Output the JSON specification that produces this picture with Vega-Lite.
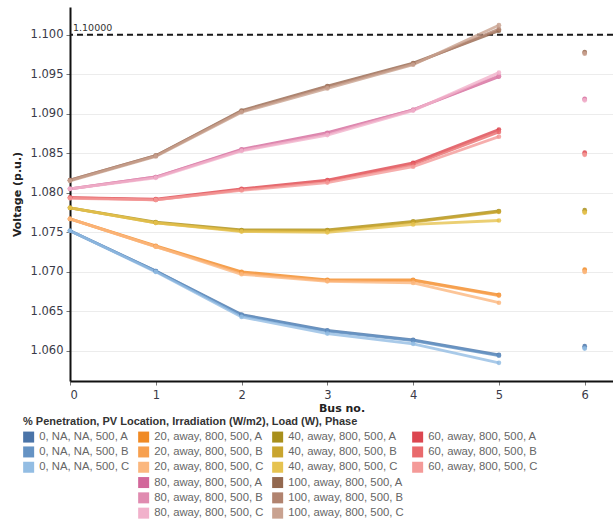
{
  "$schema": "https://vega.github.io/schema/vega-lite/v6.json",
  "width": 543,
  "height": 374,
  "autosize": {"type": "none"},
  "padding": {"left": 70, "top": 7, "right": 0, "bottom": 143},
  "config": {
    "view": {"stroke": null},
    "font": "DejaVu Sans",
    "axis": {
      "gridColor": "#ececec",
      "gridWidth": 1,
      "labelColor": "#3a3a48",
      "labelFontSize": 11.5,
      "titleFontSize": 11,
      "titleFontWeight": "bold",
      "titleColor": "#222222",
      "domainColor": "#111111",
      "domainWidth": 2,
      "tickColor": "#777777",
      "tickSize": 4
    }
  },
  "datasets": {
    "volt": [
      {"series": "0, NA, NA, 500, A", "bus": 0, "v": 1.0752},
      {"series": "0, NA, NA, 500, A", "bus": 1, "v": 1.0701},
      {"series": "0, NA, NA, 500, A", "bus": 2, "v": 1.0646},
      {"series": "0, NA, NA, 500, A", "bus": 3, "v": 1.0626},
      {"series": "0, NA, NA, 500, A", "bus": 4, "v": 1.0614},
      {"series": "0, NA, NA, 500, A", "bus": 5, "v": 1.0595},
      {"series": "0, NA, NA, 500, A", "bus": 6, "v": 1.0606},
      {"series": "0, NA, NA, 500, B", "bus": 0, "v": 1.0752},
      {"series": "0, NA, NA, 500, B", "bus": 1, "v": 1.0701},
      {"series": "0, NA, NA, 500, B", "bus": 2, "v": 1.0645},
      {"series": "0, NA, NA, 500, B", "bus": 3, "v": 1.0625},
      {"series": "0, NA, NA, 500, B", "bus": 4, "v": 1.0613},
      {"series": "0, NA, NA, 500, B", "bus": 5, "v": 1.0594},
      {"series": "0, NA, NA, 500, B", "bus": 6, "v": 1.0604},
      {"series": "0, NA, NA, 500, C", "bus": 0, "v": 1.0752},
      {"series": "0, NA, NA, 500, C", "bus": 1, "v": 1.0700},
      {"series": "0, NA, NA, 500, C", "bus": 2, "v": 1.0643},
      {"series": "0, NA, NA, 500, C", "bus": 3, "v": 1.0622},
      {"series": "0, NA, NA, 500, C", "bus": 4, "v": 1.0609},
      {"series": "0, NA, NA, 500, C", "bus": 5, "v": 1.0585},
      {"series": "0, NA, NA, 500, C", "bus": 6, "v": 1.0603},
      {"series": "20, away, 800, 500, A", "bus": 0, "v": 1.0767},
      {"series": "20, away, 800, 500, A", "bus": 1, "v": 1.0733},
      {"series": "20, away, 800, 500, A", "bus": 2, "v": 1.0700},
      {"series": "20, away, 800, 500, A", "bus": 3, "v": 1.0690},
      {"series": "20, away, 800, 500, A", "bus": 4, "v": 1.0690},
      {"series": "20, away, 800, 500, A", "bus": 5, "v": 1.0671},
      {"series": "20, away, 800, 500, A", "bus": 6, "v": 1.0703},
      {"series": "20, away, 800, 500, B", "bus": 0, "v": 1.0767},
      {"series": "20, away, 800, 500, B", "bus": 1, "v": 1.0732},
      {"series": "20, away, 800, 500, B", "bus": 2, "v": 1.0699},
      {"series": "20, away, 800, 500, B", "bus": 3, "v": 1.0689},
      {"series": "20, away, 800, 500, B", "bus": 4, "v": 1.0689},
      {"series": "20, away, 800, 500, B", "bus": 5, "v": 1.0670},
      {"series": "20, away, 800, 500, B", "bus": 6, "v": 1.0701},
      {"series": "20, away, 800, 500, C", "bus": 0, "v": 1.0767},
      {"series": "20, away, 800, 500, C", "bus": 1, "v": 1.0732},
      {"series": "20, away, 800, 500, C", "bus": 2, "v": 1.0697},
      {"series": "20, away, 800, 500, C", "bus": 3, "v": 1.0688},
      {"series": "20, away, 800, 500, C", "bus": 4, "v": 1.0686},
      {"series": "20, away, 800, 500, C", "bus": 5, "v": 1.0661},
      {"series": "20, away, 800, 500, C", "bus": 6, "v": 1.0700},
      {"series": "40, away, 800, 500, A", "bus": 0, "v": 1.0781},
      {"series": "40, away, 800, 500, A", "bus": 1, "v": 1.0763},
      {"series": "40, away, 800, 500, A", "bus": 2, "v": 1.0753},
      {"series": "40, away, 800, 500, A", "bus": 3, "v": 1.0753},
      {"series": "40, away, 800, 500, A", "bus": 4, "v": 1.0764},
      {"series": "40, away, 800, 500, A", "bus": 5, "v": 1.0777},
      {"series": "40, away, 800, 500, A", "bus": 6, "v": 1.0778},
      {"series": "40, away, 800, 500, B", "bus": 0, "v": 1.0781},
      {"series": "40, away, 800, 500, B", "bus": 1, "v": 1.0762},
      {"series": "40, away, 800, 500, B", "bus": 2, "v": 1.0752},
      {"series": "40, away, 800, 500, B", "bus": 3, "v": 1.0752},
      {"series": "40, away, 800, 500, B", "bus": 4, "v": 1.0763},
      {"series": "40, away, 800, 500, B", "bus": 5, "v": 1.0776},
      {"series": "40, away, 800, 500, B", "bus": 6, "v": 1.0776},
      {"series": "40, away, 800, 500, C", "bus": 0, "v": 1.0781},
      {"series": "40, away, 800, 500, C", "bus": 1, "v": 1.0762},
      {"series": "40, away, 800, 500, C", "bus": 2, "v": 1.0751},
      {"series": "40, away, 800, 500, C", "bus": 3, "v": 1.0750},
      {"series": "40, away, 800, 500, C", "bus": 4, "v": 1.0760},
      {"series": "40, away, 800, 500, C", "bus": 5, "v": 1.0765},
      {"series": "40, away, 800, 500, C", "bus": 6, "v": 1.0775},
      {"series": "60, away, 800, 500, A", "bus": 0, "v": 1.0794},
      {"series": "60, away, 800, 500, A", "bus": 1, "v": 1.0792},
      {"series": "60, away, 800, 500, A", "bus": 2, "v": 1.0805},
      {"series": "60, away, 800, 500, A", "bus": 3, "v": 1.0816},
      {"series": "60, away, 800, 500, A", "bus": 4, "v": 1.0838},
      {"series": "60, away, 800, 500, A", "bus": 5, "v": 1.0880},
      {"series": "60, away, 800, 500, A", "bus": 6, "v": 1.0851},
      {"series": "60, away, 800, 500, B", "bus": 0, "v": 1.0794},
      {"series": "60, away, 800, 500, B", "bus": 1, "v": 1.0791},
      {"series": "60, away, 800, 500, B", "bus": 2, "v": 1.0804},
      {"series": "60, away, 800, 500, B", "bus": 3, "v": 1.0815},
      {"series": "60, away, 800, 500, B", "bus": 4, "v": 1.0836},
      {"series": "60, away, 800, 500, B", "bus": 5, "v": 1.0877},
      {"series": "60, away, 800, 500, B", "bus": 6, "v": 1.0849},
      {"series": "60, away, 800, 500, C", "bus": 0, "v": 1.0793},
      {"series": "60, away, 800, 500, C", "bus": 1, "v": 1.0791},
      {"series": "60, away, 800, 500, C", "bus": 2, "v": 1.0803},
      {"series": "60, away, 800, 500, C", "bus": 3, "v": 1.0813},
      {"series": "60, away, 800, 500, C", "bus": 4, "v": 1.0833},
      {"series": "60, away, 800, 500, C", "bus": 5, "v": 1.0871},
      {"series": "60, away, 800, 500, C", "bus": 6, "v": 1.0848},
      {"series": "80, away, 800, 500, A", "bus": 0, "v": 1.0805},
      {"series": "80, away, 800, 500, A", "bus": 1, "v": 1.0820},
      {"series": "80, away, 800, 500, A", "bus": 2, "v": 1.0855},
      {"series": "80, away, 800, 500, A", "bus": 3, "v": 1.0876},
      {"series": "80, away, 800, 500, A", "bus": 4, "v": 1.0905},
      {"series": "80, away, 800, 500, A", "bus": 5, "v": 1.0947},
      {"series": "80, away, 800, 500, A", "bus": 6, "v": 1.0919},
      {"series": "80, away, 800, 500, B", "bus": 0, "v": 1.0805},
      {"series": "80, away, 800, 500, B", "bus": 1, "v": 1.0820},
      {"series": "80, away, 800, 500, B", "bus": 2, "v": 1.0854},
      {"series": "80, away, 800, 500, B", "bus": 3, "v": 1.0875},
      {"series": "80, away, 800, 500, B", "bus": 4, "v": 1.0905},
      {"series": "80, away, 800, 500, B", "bus": 5, "v": 1.0948},
      {"series": "80, away, 800, 500, B", "bus": 6, "v": 1.0918},
      {"series": "80, away, 800, 500, C", "bus": 0, "v": 1.0805},
      {"series": "80, away, 800, 500, C", "bus": 1, "v": 1.0819},
      {"series": "80, away, 800, 500, C", "bus": 2, "v": 1.0853},
      {"series": "80, away, 800, 500, C", "bus": 3, "v": 1.0873},
      {"series": "80, away, 800, 500, C", "bus": 4, "v": 1.0904},
      {"series": "80, away, 800, 500, C", "bus": 5, "v": 1.0952},
      {"series": "80, away, 800, 500, C", "bus": 6, "v": 1.0917},
      {"series": "100, away, 800, 500, A", "bus": 0, "v": 1.0816},
      {"series": "100, away, 800, 500, A", "bus": 1, "v": 1.0847},
      {"series": "100, away, 800, 500, A", "bus": 2, "v": 1.0904},
      {"series": "100, away, 800, 500, A", "bus": 3, "v": 1.0935},
      {"series": "100, away, 800, 500, A", "bus": 4, "v": 1.0964},
      {"series": "100, away, 800, 500, A", "bus": 5, "v": 1.1005},
      {"series": "100, away, 800, 500, A", "bus": 6, "v": 1.0978},
      {"series": "100, away, 800, 500, B", "bus": 0, "v": 1.0816},
      {"series": "100, away, 800, 500, B", "bus": 1, "v": 1.0847},
      {"series": "100, away, 800, 500, B", "bus": 2, "v": 1.0903},
      {"series": "100, away, 800, 500, B", "bus": 3, "v": 1.0934},
      {"series": "100, away, 800, 500, B", "bus": 4, "v": 1.0963},
      {"series": "100, away, 800, 500, B", "bus": 5, "v": 1.1007},
      {"series": "100, away, 800, 500, B", "bus": 6, "v": 1.0977},
      {"series": "100, away, 800, 500, C", "bus": 0, "v": 1.0815},
      {"series": "100, away, 800, 500, C", "bus": 1, "v": 1.0846},
      {"series": "100, away, 800, 500, C", "bus": 2, "v": 1.0902},
      {"series": "100, away, 800, 500, C", "bus": 3, "v": 1.0932},
      {"series": "100, away, 800, 500, C", "bus": 4, "v": 1.0962},
      {"series": "100, away, 800, 500, C", "bus": 5, "v": 1.1012},
      {"series": "100, away, 800, 500, C", "bus": 6, "v": 1.0976}
    ],
    "limit": [{"v": 1.1, "label": "1.10000"}]
  },
  "layer": [
    {
      "data": {"name": "limit"},
      "mark": {"type": "rule", "color": "#1a1a1a", "strokeWidth": 2, "strokeDash": [6, 4]},
      "encoding": {
        "y": {"field": "v", "type": "quantitative", "scale": {"domain": [1.0562, 1.1035], "nice": false, "zero": false},
          "title": "Voltage (p.u.)",
          "axis": {"values": [1.06, 1.065, 1.07, 1.075, 1.08, 1.085, 1.09, 1.095, 1.1], "format": ".3f", "labelPadding": 3, "titlePadding": 8}}
      }
    },
    {
      "data": {"name": "limit"},
      "mark": {"type": "text", "align": "left", "baseline": "bottom", "dx": 3, "dy": -2, "fontSize": 9.5, "color": "#333333"},
      "encoding": {
        "x": {"datum": 0, "type": "quantitative"},
        "y": {"field": "v", "type": "quantitative"},
        "text": {"field": "label"}
      }
    },
    {
      "data": {"name": "volt"},
      "transform": [{"filter": "datum.bus <= 5"}],
      "mark": {"type": "line", "strokeWidth": 2.8, "opacity": 0.8},
      "encoding": {
        "x": {"field": "bus", "type": "quantitative", "scale": {"domain": [0, 6.33], "nice": false, "zero": false},
          "title": "Bus no.",
          "axis": {"values": [0, 1, 2, 3, 4, 5, 6], "format": "d", "labelPadding": 4, "titlePadding": 2}},
        "y": {"field": "v", "type": "quantitative"},
        "stroke": {"field": "series", "type": "nominal", "legend": null,
          "scale": {
            "domain": ["0, NA, NA, 500, C", "0, NA, NA, 500, B", "0, NA, NA, 500, A",
                       "20, away, 800, 500, C", "20, away, 800, 500, B", "20, away, 800, 500, A",
                       "40, away, 800, 500, C", "40, away, 800, 500, B", "40, away, 800, 500, A",
                       "60, away, 800, 500, C", "60, away, 800, 500, B", "60, away, 800, 500, A",
                       "80, away, 800, 500, C", "80, away, 800, 500, B", "80, away, 800, 500, A",
                       "100, away, 800, 500, C", "100, away, 800, 500, B", "100, away, 800, 500, A"],
            "range": ["#93bde3", "#6593c4", "#4a74a8",
                      "#fbb77e", "#f7a04f", "#f08a24",
                      "#e6c350", "#c9a52e", "#a88f1c",
                      "#f49a98", "#e96a6c", "#dc4650",
                      "#f1b1cb", "#e08bb0", "#d2679a",
                      "#c9a290", "#b1836f", "#93684f"]
          }}
      }
    },
    {
      "data": {"name": "volt"},
      "mark": {"type": "point", "filled": true, "size": 22, "opacity": 0.85},
      "encoding": {
        "x": {"field": "bus", "type": "quantitative"},
        "y": {"field": "v", "type": "quantitative"},
        "color": {"field": "series", "type": "nominal",
          "title": "% Penetration, PV Location, Irradiation (W/m2), Load (W), Phase",
          "scale": {
            "domain": ["0, NA, NA, 500, A", "0, NA, NA, 500, B", "0, NA, NA, 500, C", " ", "  ", "   ",
                       "20, away, 800, 500, A", "20, away, 800, 500, B", "20, away, 800, 500, C",
                       "80, away, 800, 500, A", "80, away, 800, 500, B", "80, away, 800, 500, C",
                       "40, away, 800, 500, A", "40, away, 800, 500, B", "40, away, 800, 500, C",
                       "100, away, 800, 500, A", "100, away, 800, 500, B", "100, away, 800, 500, C",
                       "60, away, 800, 500, A", "60, away, 800, 500, B", "60, away, 800, 500, C",
                       "    ", "     ", "      "],
            "range": ["#4a74a8", "#6593c4", "#93bde3", "transparent", "transparent", "transparent",
                      "#f08a24", "#f7a04f", "#fbb77e",
                      "#d2679a", "#e08bb0", "#f1b1cb",
                      "#a88f1c", "#c9a52e", "#e6c350",
                      "#93684f", "#b1836f", "#c9a290",
                      "#dc4650", "#e96a6c", "#f49a98",
                      "transparent", "transparent", "transparent"]
          },
          "legend": {
            "orient": "none", "legendX": -47, "legendY": 409,
            "columns": 4, "gridAlign": "each", "padding": 0,
            "titleFont": "Liberation Sans", "titleFontSize": 11, "titleFontWeight": "bold", "titleColor": "#333333", "titleLimit": 600, "titlePadding": 4, "titleAnchor": "start",
            "labelFont": "Liberation Sans", "labelFontSize": 11.3, "labelColor": "#666666", "labelLimit": 300, "labelOffset": 5,
            "symbolType": "square", "symbolSize": 121, "symbolStrokeWidth": 0, "symbolOpacity": 1,
            "rowPadding": 2.3, "columnPadding": 8
          }}
      }
    }
  ]
}
